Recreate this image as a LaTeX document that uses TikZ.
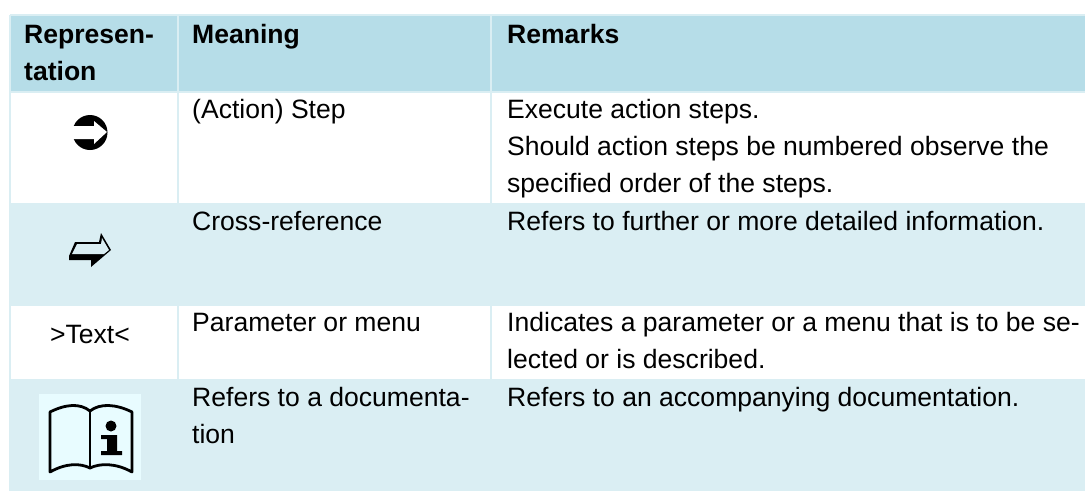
\documentclass[tikz,border=0pt]{standalone}
\usepackage{fontspec}
\setmainfont{Liberation Sans}
\definecolor{headbg}{HTML}{B6DDE8}
\definecolor{rowbg}{HTML}{DAEEF3}
\definecolor{iconbg}{HTML}{E8FCFF}
\tikzset{
  x=1pt,y=-1pt,
  celltext/.style={anchor=base west,inner sep=0pt,font=\fontsize{26.55}{30}\selectfont},
  headtext/.style={celltext,font=\fontsize{26.55}{30}\selectfont\bfseries},
  tablerule/.style={rowbg,line width=1.5pt},
  bookline/.style={black,line width=2.8pt,line join=round,line cap=round}
}
\begin{document}
\begin{tikzpicture}
\useasboundingbox (0,0) rectangle (1085,491);
\fill[white] (0,0) rectangle (1085,491);
% backgrounds
\fill[headbg] (10,15) rectangle (1085,91);
\fill[rowbg] (10,203) rectangle (1085,306);
\fill[rowbg] (10,379) rectangle (1085,491);
% rules
\draw[tablerule] (10,15) -- (1085,15);
\draw[tablerule] (10,92) -- (1085,92);
\draw[tablerule] (10,15) -- (10,491);
\draw[tablerule] (178,15) -- (178,491);
\draw[tablerule] (491,15) -- (491,491);
% header
\node[headtext] (h1a) at (24,43) {Represen-};
\node[headtext] (h1b) at (24,80) {tation};
\node[headtext] (h2) at (192,43) {Meaning};
\node[headtext] (h3) at (507,43) {Remarks};
% row 1
\fill[black] (90,132.5) circle (17.5);
\fill[white] (72,126) -- (94,126) -- (94,121) -- (107,132) -- (94,144) -- (94,139) -- (72,139) -- cycle;
\node[celltext] (m1) at (192,118) {(Action) Step};
\node[celltext] (r1a) at (507,118) {Execute action steps.};
\node[celltext] (r1b) at (507,155) {Should action steps be numbered observe the};
\node[celltext] (r1c) at (507,192) {specified order of the steps.};
% row 2
\fill[black] (69,256) -- (75,242) -- (99,242) -- (101,233) -- (111,250) -- (91,267) -- (91,260) -- (69,260) -- cycle;
\fill[rowbg] (72,254) -- (77,244) -- (101,244) -- (102,238) -- (109,250) -- (104,254) -- cycle;
\node[celltext] (m2) at (192,230) {Cross-reference};
\node[celltext] (r2) at (507,230) {Refers to further or more detailed information.};
% row 3
\node[celltext,anchor=base] (s3) at (90,343) {>Text<};
\node[celltext] (m3) at (192,331) {Parameter or menu};
\node[celltext] (r3a) at (507,331) {Indicates a parameter or a menu that is to be se-};
\node[celltext] (r3b) at (507,368) {lected or is described.};
% row 4
\fill[iconbg] (39,394) rectangle (141,480);
\draw[bookline] (90,411) .. controls (80,403) and (66,404) .. (50,412) -- (50,472) .. controls (66,463) and (80,463) .. (90,468) .. controls (100,463) and (116,463) .. (132,472) -- (132,412) .. controls (116,404) and (100,403) .. (90,411) -- cycle;
\draw[bookline] (90,411) -- (90,468);
\fill[black] (111,426) circle (5.5);
\fill[black] (101,435) -- (117,435) -- (117,451) -- (122,451) -- (122,455) -- (101,455) -- (101,451) -- (107,451) -- (107,439) -- (101,439) -- cycle;
\node[celltext] (m4) at (192,406) {Refers to a documenta-};
\node[celltext] (m4b) at (192,443) {tion};
\node[celltext] (r4) at (507,406) {Refers to an accompanying documentation.};
\end{tikzpicture}
\end{document}
